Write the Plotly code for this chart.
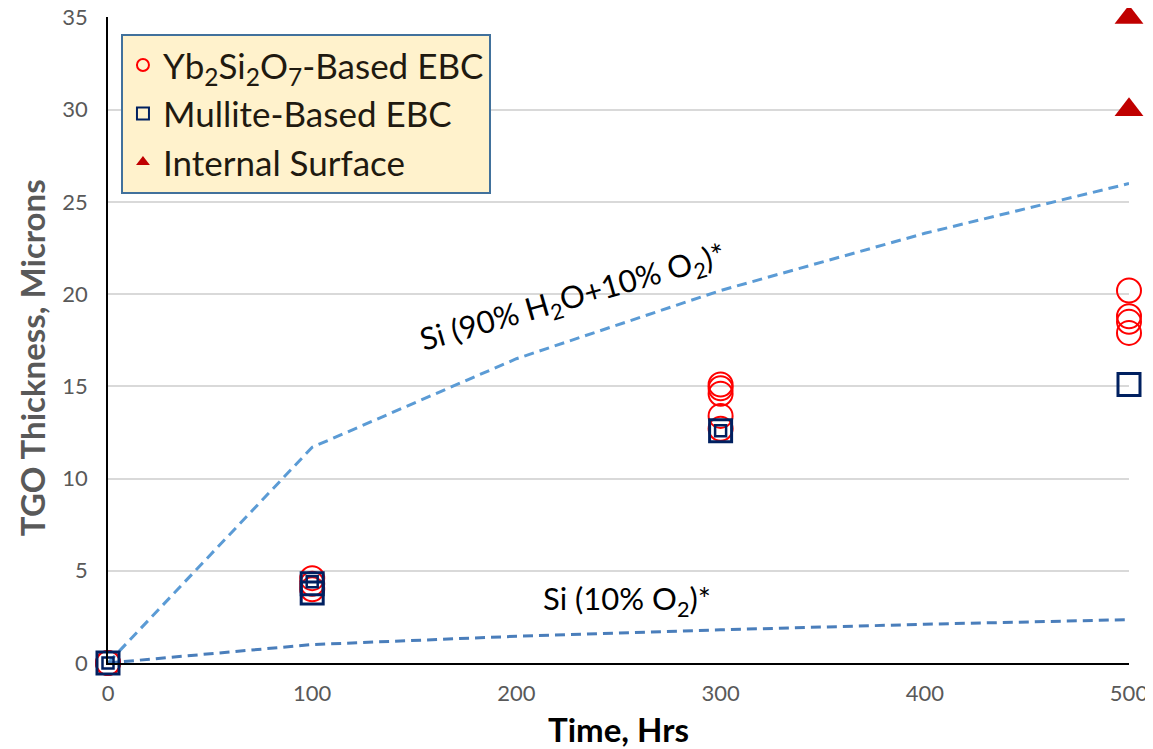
import plotly.graph_objects as go

# ---- data ----
time_curve = [0, 100, 200, 300, 400, 500]
si_steam = [0, 11.7, 16.5, 20.2, 23.3, 26.0]      # Si (90% H2O + 10% O2)*
si_dry = [0, 1.0, 1.45, 1.8, 2.1, 2.35]             # Si (10% O2)*

yb_time = [0, 0, 100, 100, 100, 300, 300, 300, 300, 300, 500, 500, 500, 500]
yb_tgo = [0, 0, 4.6, 4.3, 4.0, 15.1, 14.9, 14.6, 13.4, 12.7, 20.2, 18.8, 18.5, 17.9]

mul_time = [0, 100, 100, 300, 500]
mul_tgo = [0, 4.3, 3.8, 12.6, 15.1]

mul_small_time = [0, 100, 300]
mul_small_tgo = [0, 4.4, 12.6]

int_time = [500, 500]
int_tgo = [35, 30]

x_ticks = [0, 100, 200, 300, 400, 500]
y_ticks = [0, 5, 10, 15, 20, 25, 30, 35]

FONT = "Lato"

fig = go.Figure()

fig.add_trace(go.Scatter(x=time_curve, y=si_steam, mode="lines",
                         line=dict(color="#5B9BD5", width=3, dash="10px,6px"),
                         showlegend=False, hoverinfo="skip"))
fig.add_trace(go.Scatter(x=time_curve, y=si_dry, mode="lines",
                         line=dict(color="#4A7EBB", width=3, dash="10px,6px"),
                         showlegend=False, hoverinfo="skip"))

fig.add_trace(go.Scatter(x=yb_time, y=yb_tgo, mode="markers",
                         name="Yb<sub>2</sub>Si<sub>2</sub>O<sub>7</sub>-Based EBC",
                         marker=dict(symbol="circle-open", size=24, color="#FF0000",
                                     line=dict(width=2, color="#FF0000")),
                         cliponaxis=False))
fig.add_trace(go.Scatter(x=mul_time, y=mul_tgo, mode="markers",
                         name="Mullite-Based EBC",
                         marker=dict(symbol="square-open", size=22, color="#002060",
                                     line=dict(width=3, color="#002060")),
                         cliponaxis=False))
fig.add_trace(go.Scatter(x=mul_small_time, y=mul_small_tgo, mode="markers",
                         showlegend=False,
                         marker=dict(symbol="square-open", size=11, color="#002060",
                                     line=dict(width=2.5, color="#002060")),
                         cliponaxis=False))
fig.add_trace(go.Scatter(x=int_time, y=int_tgo, mode="markers",
                         name="Internal Surface",
                         marker=dict(symbol="triangle-up", size=25, color="#C00000"),
                         cliponaxis=False))

fig.add_annotation(x=0.455, y=0.565, xref="paper", yref="paper",
                   xanchor="center", yanchor="middle",
                   text="Si (90% H<sub>2</sub>O+10% O<sub>2</sub>)*",
                   showarrow=False, textangle=-16,
                   font=dict(family=FONT, size=31, color="#000000"))
fig.add_annotation(x=0.508, y=0.0975, xref="paper", yref="paper",
                   xanchor="center", yanchor="middle",
                   text="Si (10% O<sub>2</sub>)*",
                   showarrow=False,
                   font=dict(family=FONT, size=31, color="#000000"))
# y-axis title placed as an annotation to match the reference position
fig.add_annotation(x=-0.0744, y=0.472, xref="paper", yref="paper",
                   xanchor="center", yanchor="middle",
                   text="<b>TGO Thickness, Microns</b>", textangle=-90,
                   showarrow=False,
                   font=dict(family=FONT, size=33, color="#595959"))

# page body has an 8px margin, so the figure is offset by 8px right and down
fig.update_layout(
    width=1145, height=741,
    margin=dict(l=100, r=24, t=9, b=86),
    plot_bgcolor="white", paper_bgcolor="white",
    font=dict(family=FONT),
    legend=dict(x=0.0127, y=0.974, xanchor="left", yanchor="top",
                bgcolor="#FFF2CC", bordercolor="#41719C", borderwidth=2,
                font=dict(family=FONT, size=35, color="#1f1a10"),
                itemsizing="constant", tracegroupgap=0),
    xaxis=dict(range=[0, 500], tickvals=x_ticks, showgrid=False, automargin=False,
               showline=True, linecolor="#000000", linewidth=1.5,
               zeroline=False, ticks="outside", ticklen=10, tickcolor="rgba(0,0,0,0)",
               ticklabeloverflow="allow",
               tickfont=dict(family=FONT, size=22, color="#595959"),
               title=dict(text="<b>Time, Hrs</b>", standoff=14,
                          font=dict(family=FONT, size=33, color="#000000"))),
    yaxis=dict(range=[0, 35.03], tickvals=y_ticks, showgrid=True, gridcolor="#D9D9D9",
               automargin=False,
               gridwidth=1.5, showline=True, linecolor="#000000", linewidth=1.5,
               zeroline=False, ticks="outside", ticklen=14, tickcolor="rgba(0,0,0,0)",
               ticklabeloverflow="allow",
               tickfont=dict(family=FONT, size=22, color="#595959")),
)

fig.write_html("out.html")
